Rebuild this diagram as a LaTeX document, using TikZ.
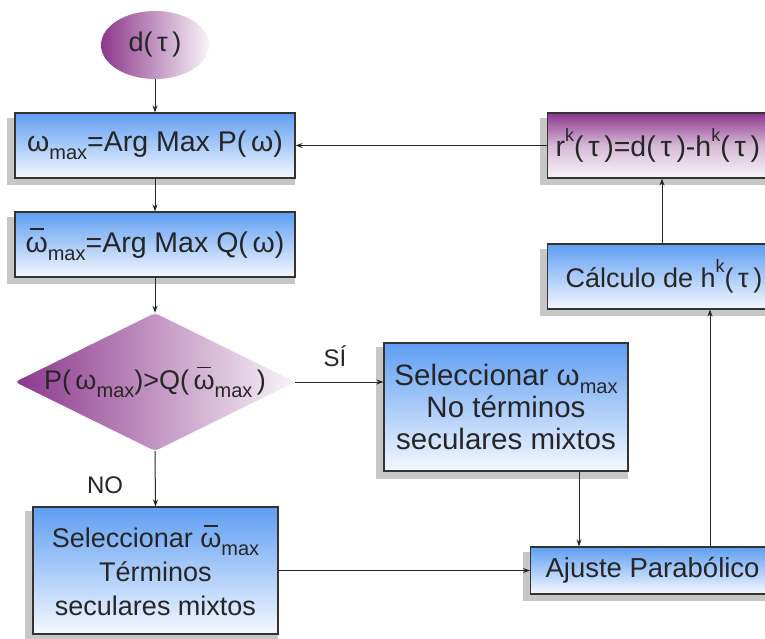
\documentclass[tikz,border=0pt]{standalone}
\usepackage{fontspec}
\setmainfont{Liberation Sans}
\usetikzlibrary{shapes.geometric,shadows,arrows.meta,calc}
\definecolor{purp}{RGB}{140,55,140}
\definecolor{purpW}{RGB}{248,244,248}
\definecolor{blueT}{RGB}{95,158,242}
\definecolor{blueB}{RGB}{245,248,255}
\newcommand{\bigfs}{\fontsize{27}{34}\selectfont}
\newcommand{\widefs}{\fontsize{28.5}{34}\selectfont}
\newcommand{\bthreefs}{\fontsize{29.5}{32}\selectfont}
\newcommand{\subfs}{\fontsize{20}{20}\selectfont}
\newcommand{\wmax}{ω\raisebox{-0.28em}{\subfs max}}
\newcommand{\wbarmax}{\ooalign{\hfil\raisebox{0.78em}{\rule{0.5em}{0.06em}}\hfil\cr ω\cr}\raisebox{-0.28em}{\subfs max}}
\newcommand{\supk}{\raisebox{0.55em}{\fontsize{18}{18}\selectfont k}}
\tikzset{
  box/.style={rectangle, draw=black!80, line width=1.1pt, top color=blueT, bottom color=blueB,
    drop shadow={shadow xshift=-4pt, shadow yshift=-6pt, shadow scale=1.03, fill=black!22, opacity=1},
    font=\bigfs, text=black!85, inner sep=0pt, align=center},
  pbox/.style={box, top color=purp, bottom color=purpW, middle color=purp!35!white},
  ell/.style={ellipse, minimum width=108pt, minimum height=68pt, inner sep=0pt,
    left color=purp, right color=purpW, font=\bigfs, text=black!85},
  dec/.style={diamond, minimum width=280pt, minimum height=138pt, inner sep=0pt,
    left color=purp, right color=purpW, rounded corners=4pt},
  lbl/.style={font=\fontsize{24}{28}\selectfont, text=black!85},
  arr/.style={-{Stealth[length=7pt,width=5pt]}, line width=1pt, draw=black!85}
}
\begin{document}
\begin{tikzpicture}[x=1pt,y=-1pt]
\useasboundingbox (0,0) rectangle (765,639);
\clip (0,0) rectangle (765,639);
\fill[white] (0,0) rectangle (765,639);
\node[ell] (d) at (155,45) {d(\,τ\,)};
\node[box, font=\widefs, minimum width=280pt, minimum height=65pt] (b1) at (155,145.5) {\wmax=Arg Max P(\,ω)};
\node[box, font=\widefs, minimum width=280pt, minimum height=65pt] (b2) at (155,244.5) {\wbarmax=Arg Max Q(\,ω)};
\node[dec] (dc) at (155,382) {};
\node[font=\bigfs, text=black!85] (dct) at (dc) {P(\,\wmax)>Q(\,\wbarmax\,)};
\node[box, font=\bthreefs, minimum width=244pt, minimum height=128pt, inner ysep=0pt, text depth=-4pt] (b3) at (506,407) {Seleccionar \wmax\\No términos\\seculares mixtos};
\node[box, minimum width=245pt, minimum height=127pt] (b4) at (155.5,570.5) {Seleccionar \wbarmax\\Términos\\seculares mixtos};
\node[box, anchor=west, minimum height=47pt, inner xsep=15pt, font=\fontsize{27.5}{32}\selectfont] (aj) at (530,570.5) {Ajuste Parabólico};
\node[box, anchor=west, minimum height=65pt, inner xsep=18pt] (calc) at (547,276.5) {Cálculo de h\supk(\,τ\,)};
\node[pbox, font=\widefs, anchor=west, minimum height=65pt, inner xsep=8pt] (r) at (547,145.5) {r\supk(\,τ\,)=d(\,τ\,)-h\supk(\,τ\,)};
\node[lbl] (si) at (335,356) {SÍ};
\node[lbl] (no) at (105,485) {NO};
\coordinate (x1) at (579,0);
\coordinate (x2) at (710,0);
\coordinate (x3) at (662,0);
\draw[arr] (d.south) -- (b1.north);
\draw[arr] (b1.south) -- (b2.north);
\draw[arr] (b2.south) -- (dc.north);
\draw[arr] (dc.east) -- (dc.east -| b3.west);
\draw[arr] (dc.south) -- (b4.north);
\draw[arr] (b3.south -| x1) -- (aj.north -| x1);
\draw[arr] (b4.east) -- (aj.west);
\draw[arr] (aj.north -| x2) -- (calc.south -| x2);
\draw[arr] (calc.north -| x3) -- (r.south -| x3);
\draw[arr] (r.west) -- (b1.east);
\end{tikzpicture}
\end{document}
